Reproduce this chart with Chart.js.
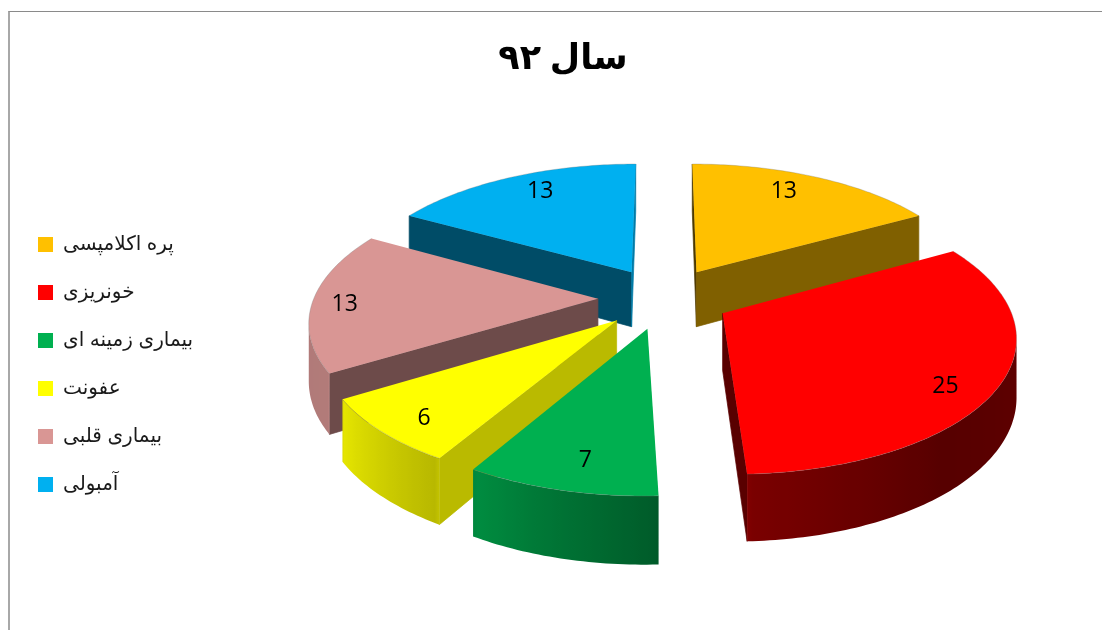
<!DOCTYPE html>
<html lang="fa"><head><meta charset="utf-8">
<style>
html,body{margin:0;padding:0;background:#fff;overflow:hidden}
#frame{position:absolute;left:8px;top:11px;width:1094px;height:619px;box-sizing:border-box;border-left:2px solid #a8a8a8;border-top:1px solid #8a8a8a}
canvas{position:absolute;left:0;top:0}
</style>
<script src="https://cdn.jsdelivr.net/npm/chart.js@4"></script>
</head><body>
<div id="frame"></div>
<canvas id="c" width="1102" height="630"></canvas>
<script>
const chartTitle = 'سال ۹۲';
const categories = ['پره اکلامپسی','خونریزی','بیماری زمینه ای','عفونت','بیماری قلبی','آمبولی'];
const values = [13,25,7,6,13,13];
const colors = ['#ffc000','#ff0000','#00b050','#ffff00','#d99694','#00b0f0'];

// camera / extrusion settings for the 3D look
const view = {cx:664, cy:298, tilt:0.464, persp:0.00053, depth:56, radius:284, explode:66};
const startWallShade = [0.30,0.35,0.5,0.73,0.5,0.43];
const endWallShade   = [0.5,0.35,0.6,0.6,0.6,0.7];
const labelReach     = [0.80,0.86,0.82,0.86,0.92,0.80];
const labelNudgeX    = [-11,-13,7,6,9,7];
const labelNudgeY    = [-4,11,2,3,2,-4];
const rimShadeStops  = [[90,.38],[140,.34],[177,.48],[178,.52],[195,.66],[210,.8],[211,.72],[238,.9],[239,.82],[299,.8],[360,.8]];

function project(u,v,z){const w=1/(1-view.persp*v);return [view.cx+u*w,view.cy+view.tilt*v*w+z*w];}
function shade(hex,b){const n=parseInt(hex.slice(1),16);return `rgb(${Math.round((n>>16&255)*b)},${Math.round((n>>8&255)*b)},${Math.round((n&255)*b)})`;}
function rimShade(deg){for(let i=1;i<rimShadeStops.length;i++){const [d1,b1]=rimShadeStops[i],[d0,b0]=rimShadeStops[i-1];if(deg<=d1)return b0+(b1-b0)*Math.max(0,deg-d0)/(d1-d0);}return .8;}
function area(p){let s=0;p.forEach((q,i)=>{const r=p[(i+1)%p.length];s+=q[0]*r[1]-r[0]*q[1];});return s;}
function poly(ctx,p,fill,line){ctx.beginPath();p.forEach((q,i)=>i?ctx.lineTo(q[0],q[1]):ctx.moveTo(q[0],q[1]));ctx.closePath();ctx.fillStyle=fill;ctx.fill();if(line){ctx.strokeStyle=line;ctx.lineWidth=.7;ctx.stroke();}}

const pie3d = {
  id:'pie3d',
  beforeDatasetsDraw(chart){
    const ctx=chart.ctx, arcs=chart.getDatasetMeta(0).data;
    const order=arcs.map((a,i)=>i).sort((i,j)=>Math.sin((arcs[i].startAngle+arcs[i].endAngle)/2)-Math.sin((arcs[j].startAngle+arcs[j].endAngle)/2));
    ctx.save();
    for(const i of order){
      const a=arcs[i],a0=a.startAngle,a1=a.endAngle,mid=(a0+a1)/2,R=a.outerRadius,d=a.options.offset,col=colors[i];
      const ox=d*Math.cos(mid),oy=d*Math.sin(mid);
      const P=(t,r,z)=>project(ox+r*Math.cos(t),oy+r*Math.sin(t),z);
      const n=Math.max(12,Math.round((a1-a0)*60));
      const ang=[];for(let k=0;k<=n;k++)ang.push(a0+(a1-a0)*k/n);
      const D=view.depth;
      const sw=[P(a0,0,0),P(a0,R,0),P(a0,R,D),P(a0,0,D)];
      if(area(sw)<0)poly(ctx,sw,shade(col,startWallShade[i]),shade(col,startWallShade[i]));
      const ew=[P(a1,0,0),P(a1,R,0),P(a1,R,D),P(a1,0,D)];
      if(area(ew)>0)poly(ctx,ew,shade(col,endWallShade[i]),shade(col,endWallShade[i]));
      // outer rim: one polygon over the front-facing part, shaded along x
      const vis=[];
      for(let k=0;k<n;k++){
        if(area([P(ang[k],R,0),P(ang[k+1],R,0),P(ang[k+1],R,D),P(ang[k],R,D)])<0){
          if(!vis.length)vis.push(ang[k]);
          vis.push(ang[k+1]);
        }
      }
      if(vis.length>1){
        const tops=vis.map(t=>P(t,R,0)),bots=vis.map(t=>P(t,R,D)).reverse();
        const xs=tops.map(q=>q[0]),xa=Math.min(...xs),xb=Math.max(...xs);
        const g=ctx.createLinearGradient(xa,0,xb,0);
        vis.forEach((t,k)=>{
          const deg=((t+Math.PI/2)*180/Math.PI+360)%360;
          g.addColorStop(Math.min(1,Math.max(0,(xs[k]-xa)/(xb-xa||1))),shade(col,rimShade(deg)));
        });
        poly(ctx,tops.concat(bots),g,null);
      }
      const top=[P(a0,0,0)];ang.forEach(t=>top.push(P(t,R,0)));
      poly(ctx,top,col,null);
      ctx.beginPath();ang.forEach((t,k)=>{const q=P(t,R,0);k?ctx.lineTo(q[0],q[1]):ctx.moveTo(q[0],q[1]);});
      ctx.strokeStyle='rgba(120,120,120,.3)';ctx.lineWidth=1;ctx.stroke();
    }
    ctx.fillStyle='#000';ctx.font='23px "Open Sans", sans-serif';ctx.textAlign='center';ctx.textBaseline='middle';
    arcs.forEach((a,i)=>{
      const mid=(a.startAngle+a.endAngle)/2,r=a.options.offset+a.outerRadius*labelReach[i];
      const p=project(r*Math.cos(mid),r*Math.sin(mid),0);
      ctx.fillText(String(values[i]),p[0]+labelNudgeX[i],p[1]+labelNudgeY[i]+1);
    });
    ctx.restore();
    return false;
  }
};

new Chart(document.getElementById('c'),{
  type:'pie',
  data:{labels:categories,datasets:[{data:values,backgroundColor:colors,borderWidth:0,offset:view.explode}]},
  plugins:[pie3d],
  options:{
    responsive:false,animation:false,radius:view.radius,
    layout:{padding:{left:10,top:39,right:-14,bottom:0}},
    plugins:{
      tooltip:{enabled:false},
      title:{display:true,text:chartTitle,color:'#000',font:{family:'"Liberation Serif","DejaVu Sans",serif',size:35,weight:'bold'},padding:{top:0,bottom:18}},
      legend:{position:'left',align:'center',fullSize:false,labels:{boxWidth:15,boxHeight:15,padding:28,color:'#1a1a1a',font:{family:'"Liberation Sans","DejaVu Sans",sans-serif',size:20}}}
    }
  }
});
</script>
</body></html>
